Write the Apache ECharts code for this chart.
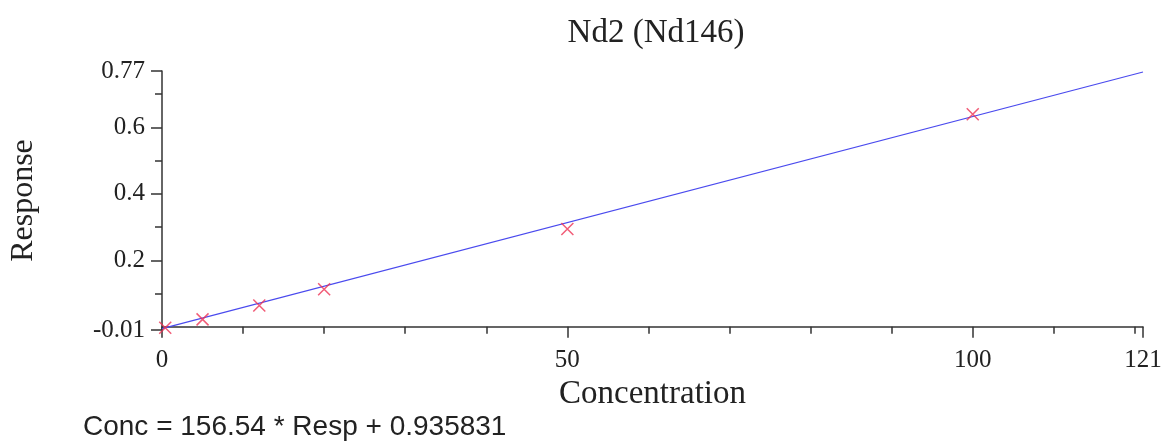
<!DOCTYPE html>
<html>
<head>
<meta charset="utf-8">
<script src="https://cdn.jsdelivr.net/npm/echarts@6/dist/echarts.min.js"></script>
<style>
  html, body { margin: 0; padding: 0; background: #fff; }
  #chart { width: 1174px; height: 446px; }
</style>
</head>
<body>
<div id="chart"></div>
<script>
// calibration points (concentration, response)
var concValues = [0.4, 5, 12, 20, 50, 100];
var respValues = [-0.003, 0.022, 0.064, 0.113, 0.294, 0.64];
// fitted line end points
var fitConc = [0, 121];
var fitResp = [-0.006, 0.767];

var xMajorTicks = [0, 50, 100, 121];
var xMinorTicks = [10, 20, 30, 40, 60, 70, 80, 90, 110, 120];
var yMajorTicks = [-0.01, 0.2, 0.4, 0.6, 0.77];
var yMinorTicks = [0.1, 0.3, 0.5, 0.7];

var serif = '"Liberation Serif", "DejaVu Serif", serif';
var axisColor = '#333';

var points = concValues.map(function (c, i) { return [c, respValues[i]]; });
var fitLine = fitConc.map(function (c, i) { return [c, fitResp[i]]; });

var chart = echarts.init(document.getElementById('chart'));
var option = {
    animation: false,
    title: {
        text: 'Nd2 (Nd146)',
        left: 651,
        top: 12,
        textAlign: 'center',
        textStyle: { fontFamily: serif, fontWeight: 'normal', fontSize: 33, color: '#222' }
    },
    grid: { left: 160, right: 31, top: 71, bottom: 116 },
    xAxis: [
        {
            type: 'value', min: 0, max: 121, position: 'bottom',
            name: 'Concentration', nameLocation: 'middle', nameGap: 43,
            nameTextStyle: { fontFamily: serif, fontSize: 33, color: '#222' },
            axisLine: { show: true, lineStyle: { color: axisColor, width: 1.5 } },
            axisTick: { show: true, customValues: xMajorTicks, length: 11, lineStyle: { color: axisColor, width: 1.5 } },
            axisLabel: { customValues: xMajorTicks, showMinLabel: true, showMaxLabel: true, margin: 18,
                fontFamily: serif, fontSize: 25, color: '#222' },
            splitLine: { show: false }
        },
        {
            type: 'value', min: 0, max: 121, position: 'bottom',
            axisLine: { show: false },
            axisTick: { show: true, customValues: xMinorTicks, length: 7, lineStyle: { color: axisColor, width: 1.5 } },
            axisLabel: { show: false },
            splitLine: { show: false }
        }
    ],
    yAxis: [
        {
            type: 'value', min: -0.01, max: 0.77, position: 'left',
            name: 'Response', nameLocation: 'middle', nameGap: 122, nameRotate: 90,
            nameTextStyle: { fontFamily: serif, fontSize: 32, color: '#222' },
            axisLine: { show: true, lineStyle: { color: axisColor, width: 1.5 } },
            axisTick: { show: true, customValues: yMajorTicks, length: 11, lineStyle: { color: axisColor, width: 1.5 } },
            axisLabel: { customValues: yMajorTicks, showMinLabel: true, showMaxLabel: true, margin: 17,
                fontFamily: serif, fontSize: 25, color: '#222',
                formatter: function (v) { return String(Math.round(v * 100) / 100); } },
            splitLine: { show: false }
        },
        {
            type: 'value', min: -0.01, max: 0.77, position: 'left',
            axisLine: { show: false },
            axisTick: { show: true, customValues: yMinorTicks, length: 7, lineStyle: { color: axisColor, width: 1.5 } },
            axisLabel: { show: false },
            splitLine: { show: false }
        }
    ],
    series: [
        {
            type: 'line',
            data: fitLine,
            showSymbol: false,
            lineStyle: { color: '#4a4aee', width: 1.2 },
            silent: true,
            z: 2
        },
        {
            type: 'scatter',
            data: points,
            symbol: 'path://M0,0L10,10M10,0L0,10',
            symbolSize: 12,
            itemStyle: { color: 'none', borderColor: '#ee3355', borderWidth: 1.5 },
            z: 3
        }
    ],
    graphic: [
        {
            type: 'text',
            left: 83,
            top: 413,
            style: {
                text: 'Conc = 156.54 * Resp + 0.935831',
                font: '28px "Liberation Sans", Arial, sans-serif',
                fill: '#222'
            }
        }
    ]
};
chart.setOption(option);
window.addEventListener('resize', function () { chart.resize(); });
</script>
</body>
</html>
